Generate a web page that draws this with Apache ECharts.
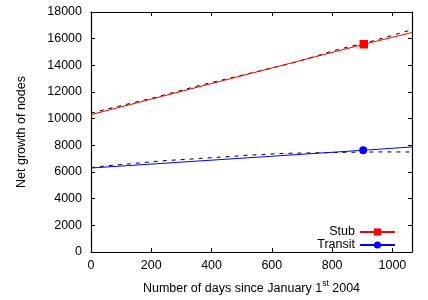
<!DOCTYPE html>
<html><head><meta charset="utf-8">
<script src="https://cdn.jsdelivr.net/npm/echarts@6/dist/echarts.min.js"></script>
<style>html,body{margin:0;padding:0;background:#fff}#c{width:428px;height:300px}</style>
</head><body><div id="c"></div>
<script>
// ---- data ----
const seriesNames = ['Stub', 'Transit'];
// fitted (solid) lines; middle point carries the marker
const stubFitDays = [0, 905, 1065];
const stubFitValues = [10300, 15580, 16460];
const transitFitDays = [0, 903, 1065];
const transitFitValues = [6300, 7630, 7880];
const markerIndex = 1;
// measured (dashed) lines
const stubDashDays = [0, 45, 216, 358, 530, 674, 814, 947, 1052, 1065];
const stubDashValues = [10410, 10675, 11610, 12480, 13420, 14210, 15155, 15900, 16590, 16650];
const transitDashDays = [0, 45, 106, 156, 199, 255, 311, 361, 411, 466, 520, 570, 620, 676, 759, 842, 958, 1065];
const transitDashValues = [6330, 6450, 6570, 6670, 6770, 6865, 6940, 7015, 7090, 7165, 7260, 7310, 7380, 7415, 7440, 7475, 7505, 7500];
const xTickLabels = ['0', '200', '400', '600', '800', '1000'];
const yTickLabels = ['0', '2000', '4000', '6000', '8000', '10000', '12000', '14000', '16000', '18000'];
const xTitle = ['Number of days since January 1', 'st', ' 2004'];
const yTitle = 'Net growth of nodes';

const FONT = 'Liberation Sans, Arial, sans-serif';
const fitData = (days, vals) => days.map((d, i) => i === markerIndex ? [d, vals[i]] : { value: [d, vals[i]], symbol: 'none' });
const pair = (days, vals) => days.map((d, i) => [d, vals[i]]);

const xLab = v => xTickLabels.includes(String(v)) ? String(v) : '';
const yLab = v => yTickLabels.includes(String(v)) ? String(v) : '';

const axisCommon = {
  axisLine: { show: true, onZero: false, lineStyle: { color: '#000', width: 1.2 } },
  axisTick: { show: true, inside: true, length: 4, lineStyle: { color: '#000', width: 1 } },
  splitLine: { show: false }
};

const chart = echarts.init(document.getElementById('c'), null, { renderer: 'canvas' });
chart.setOption({
  animation: false,
  backgroundColor: '#fff',
  grid: { left: 91, right: 16, top: 12, bottom: 46, containLabel: false },
  legend: {
    orient: 'vertical', align: 'right', right: 32, top: 225.5, padding: 0,
    itemWidth: 35, itemHeight: 9, itemGap: 0,
    data: seriesNames,
    textStyle: { fontFamily: FONT, fontSize: 12.5, color: '#000', lineHeight: 13 }
  },
  xAxis: [
    Object.assign({}, axisCommon, {
      type: 'value', min: 0, max: 1065, interval: 200, position: 'bottom',
      axisLabel: { show: true, margin: 7, color: '#000', fontFamily: FONT, fontSize: 12.5, formatter: xLab, showMaxLabel: false },
      name: '{n|' + xTitle[0] + '}{s|' + xTitle[1] + '}{n|' + xTitle[2] + '}',
      nameLocation: 'middle', nameGap: 27,
      nameTextStyle: { color: '#000', fontFamily: FONT, fontSize: 12.5,
        rich: { n: { fontFamily: FONT, fontSize: 12.5, color: '#000', lineHeight: 16, verticalAlign: 'bottom' },
                s: { fontFamily: FONT, fontSize: 8.5, color: '#000', lineHeight: 16, verticalAlign: 'top', padding: [0, 0, 6, 0] } } }
    }),
    Object.assign({}, axisCommon, {
      type: 'value', min: 0, max: 1065, interval: 200, position: 'top',
      axisLabel: { show: false }
    })
  ],
  yAxis: [
    Object.assign({}, axisCommon, {
      type: 'value', min: 0, max: 18000, interval: 2000, position: 'left',
      axisLabel: { show: true, margin: 9, color: '#000', fontFamily: FONT, fontSize: 12.5, formatter: yLab },
      name: yTitle, nameLocation: 'middle', nameGap: 63,
      nameTextStyle: { color: '#000', fontFamily: FONT, fontSize: 12.5 }
    }),
    Object.assign({}, axisCommon, {
      type: 'value', min: 0, max: 18000, interval: 2000, position: 'right',
      axisLabel: { show: false }
    })
  ],
  series: [
    { name: 'stubDash', type: 'line', data: pair(stubDashDays, stubDashValues), symbol: 'none',
      lineStyle: { color: '#000', width: 1, type: [4, 5] }, z: 2 },
    { name: 'transitDash', type: 'line', data: pair(transitDashDays, transitDashValues), symbol: 'none',
      lineStyle: { color: '#000', width: 1, type: [4, 5] }, z: 2 },
    { name: seriesNames[0], type: 'line', data: fitData(stubFitDays, stubFitValues),
      symbol: 'rect', symbolSize: 8.5, showSymbol: true,
      itemStyle: { color: '#ff0000' }, lineStyle: { color: '#ff0000', width: 1 }, z: 3 },
    { name: seriesNames[1], type: 'line', data: fitData(transitFitDays, transitFitValues),
      symbol: 'circle', symbolSize: 8, showSymbol: true,
      itemStyle: { color: '#0000ff' }, lineStyle: { color: '#0000ff', width: 1 }, z: 3 }
  ]
});
</script>
</body></html>
